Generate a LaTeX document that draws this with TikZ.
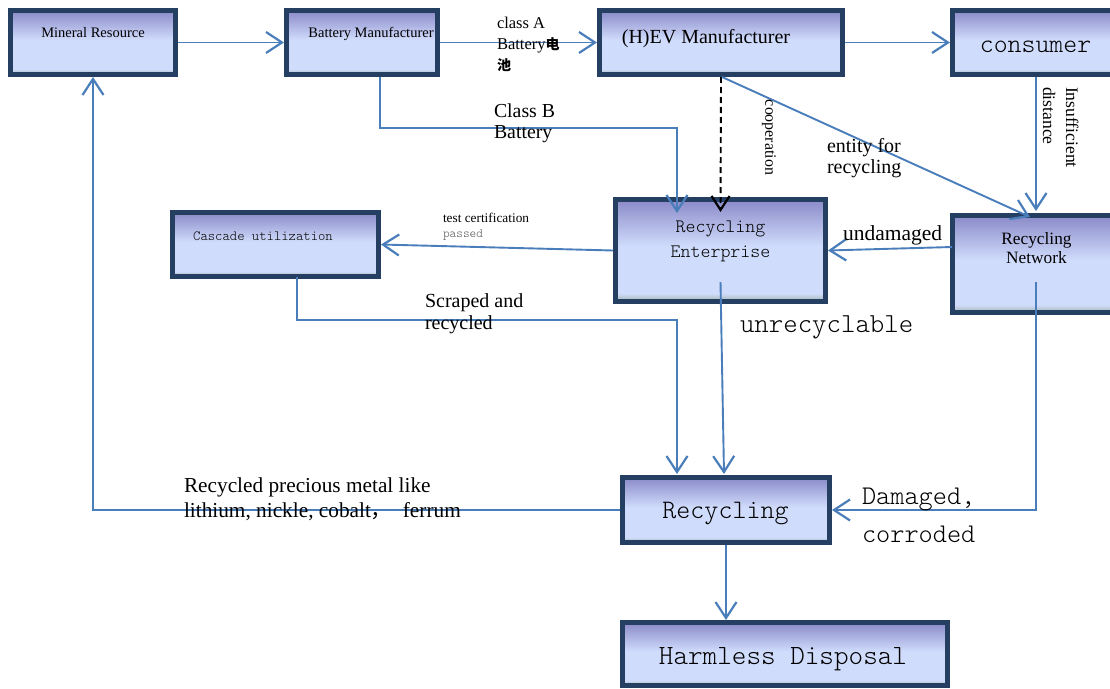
\documentclass[tikz,border=0pt]{standalone}
\usepackage{fontspec}
\setmainfont{Liberation Serif}
\setmonofont{Latin Modern Mono Light}
\newfontfamily\cjk{Noto Sans CJK SC}
\usetikzlibrary{arrows.meta,calc}

\definecolor{bxedge}{HTML}{243F62}
\definecolor{bxtop}{HTML}{8A8AC8}
\definecolor{bxlight}{HTML}{D0DCFC}
\definecolor{bxbot}{HTML}{A2B3AE}
\definecolor{flowblue}{HTML}{4A7EBB}
\definecolor{softgray}{HTML}{555555}

% box fill: violet at the top, pale blue body, grey-green band at the foot
\pgfdeclareverticalshading{boxfill}{100bp}{color(0bp)=(bxbot); color(25bp)=(bxbot);
  color(29bp)=(bxlight); color(52bp)=(bxlight); color(75bp)=(bxtop); color(100bp)=(bxtop)}

\newcommand{\fs}[2]{\fontsize{#1}{#2}\selectfont}

\begin{document}
\begin{tikzpicture}[x=1pt,y=-1pt,
  box/.style={rectangle, draw=bxedge, line width=5pt, shade, shading=boxfill, inner sep=0pt},
  flow/.style={draw=flowblue, line width=1.9pt,
    -{Straight Barb[length=16pt,width=21pt,line width=2.2pt]}},
  coop/.style={draw=black, line width=1.9pt, dash pattern=on 6pt off 4pt,
    -{Straight Barb[length=14pt,width=18pt,line width=2.2pt]}},
  lbl/.style={inner sep=0pt, outer sep=0pt},
  tt/.style={lbl, font=\ttfamily}]

\useasboundingbox (0,0) rectangle (1110,688);
\clip (0,0) rectangle (1110,688);

% boxes
\node[box, minimum width=165pt, minimum height=64pt] (mr)  at (93,42.5)    {};
\node[box, minimum width=151pt, minimum height=64pt] (bm)  at (362,42.5)   {};
\node[box, minimum width=243pt, minimum height=64pt] (hev) at (721,42.5)   {};
\node[box, minimum width=163pt, minimum height=64pt] (con) at (1034,42.5)  {};
\node[box, minimum width=206pt, minimum height=64pt] (cas) at (275.5,244.5) {};
\node[box, minimum width=210pt, minimum height=102pt] (re) at (720.5,250.5) {};
\node[box, minimum width=163pt, minimum height=97pt] (rn)  at (1034,264)   {};
\node[box, minimum width=207pt, minimum height=65pt] (rec) at (726,510)    {};
\node[box, minimum width=325pt, minimum height=63pt] (hd)  at (785,654)    {};

% box captions
\node[lbl, anchor=base, font=\fs{14.5}{17}] (mrt)  at (93,37)   {Mineral Resource};
\node[lbl, anchor=base, font=\fs{14.5}{17}] (bmt)  at (371,37)  {Battery Manufacturer};
\node[lbl, anchor=base, font=\fs{20}{24}]   (hevt) at (706,43)  {(H)EV Manufacturer};
\node[tt, anchor=base, font=\ttfamily\fs{26.5}{30}] (cont) at (1035.5,52) {consumer};
\node[tt, anchor=base, font=\ttfamily\fs{14}{17}]   (cast) at (263,240)   {Cascade utilization};
\node[tt, anchor=north, align=center, font=\ttfamily\fs{19}{25}] (ret) at (720.5,221) {Recycling\\Enterprise};
\node[lbl, anchor=north, align=center, font=\fs{17.3}{19.5}] (rnt) at (1036.5,232) {Recycling\\Network};
\node[tt, anchor=base, font=\ttfamily\fs{26.7}{30}] (rect) at (725.5,518) {Recycling};
\node[tt, anchor=base, font=\ttfamily\fs{27.8}{31}] (hdt)  at (783,664)   {Harmless Disposal};

% connectors
\draw[flow] (mr.east) -- (bm.west);
\draw[flow] (bm.east) -- (hev.west);
\draw[flow] (hev.east) -- (con.west);
\coordinate (cbturn) at (677,128);
\draw[flow] ($(bm.south)+(18,0)$) |- (cbturn) -- ($(re.north)+(-43.5,16)$);
\draw[coop] (hev.south) -- ($(re.north)+(0,15)$);
\draw[flow] ($(hev.south)+(1,0)$) -- ($(rn.north)+(-4,4)$);
\draw[flow] ($(con.south)+(2,0)$) -- ($(rn.north)+(2,-2)$);
\draw[flow] ($(rn.west)+(2,-17)$) -- (re.east);
\draw[flow] (re.west) -- (cas.east);
\coordinate (scturn) at (677,320);
\draw[flow] ($(cas.south)+(21.5,-2)$) |- (scturn) -- ($(rec.north)+(-49,-1)$);
\draw[flow] ($(re.south)+(0,-22)$) -- ($(rec.north)+(-2,-1)$);
\draw[flow] ($(rn.south)+(2,-33)$) |- (rec.east);
\draw[flow] (rec.west) -| (mr.south);
\draw[flow] (rec.south) -- (hd.north -| rec.south);

% connector labels
\node[lbl, anchor=north west, align=left, font=\fs{16.5}{21}] (la) at (497,16.7)
  {class A\\Battery{\cjk\bfseries\fs{14}{21}电}\\{\cjk\bfseries\fs{14}{21}池}};
\node[lbl, anchor=north west, align=left, font=\fs{19.8}{21}] (lb) at (494,103.4) {Class B\\Battery};
\node[lbl, rotate=-90, font=\fs{15.9}{18}] (lco) at (769,137.5) {cooperation};
\node[lbl, anchor=north west, align=left, font=\fs{20}{21}] (len) at (827,138.2) {entity for\\recycling};
\node[lbl, rotate=-90, anchor=north west, align=left, font=\fs{17.6}{23}] (lin) at (1078.5,87) {Insufficient\\distance};
\node[lbl, anchor=base west, font=\fs{21.5}{24}] (lun) at (843,240) {undamaged};
\node[lbl, anchor=north west, align=left, font=\fs{13.3}{15}] (lte) at (443,212.8)
  {test certification\\{\ttfamily\color{softgray}\fs{12.7}{15}passed}};
\node[lbl, anchor=north west, align=left, font=\fs{20}{22}] (lsc) at (425,294) {Scraped and\\recycled};
\node[tt, anchor=base west, font=\ttfamily\fs{27.5}{30}] (lur) at (740,332) {unrecyclable};
\node[tt, anchor=north west, align=left, font=\ttfamily\fs{27}{38}] (lda) at (862,487.5) {Damaged,\\corroded};
\node[lbl, anchor=north west, align=left, font=\fs{21.3}{25}] (lpm) at (184,477.3)
  {Recycled precious metal like\\lithium, nickle, cobalt{\cjk，}\ \ ferrum};

\end{tikzpicture}
\end{document}
